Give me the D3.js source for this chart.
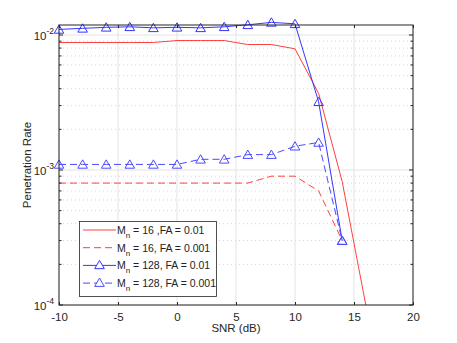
<!DOCTYPE html>
<html>
<head>
<meta charset="utf-8">
<script src="https://cdn.jsdelivr.net/npm/d3@7"></script>
<style>
body { margin: 0; background: #fff; }
text { font-family: "Liberation Sans", Arial, sans-serif; }
</style>
</head>
<body>
<svg id="chart" width="457" height="343"></svg>
<script>
// SNR axis points (dB)
const snr = [-10, -8, -6, -4, -2, 0, 2, 4, 6, 8, 10, 12, 14, 16];
const mn16Fa01 = [0.0088, 0.0088, 0.0088, 0.0088, 0.0088, 0.0091, 0.0091, 0.0091, 0.0085, 0.0085, 0.0079, 0.0037, 0.00082, 0.0001];
const mn16Fa001 = [0.0008, 0.0008, 0.0008, 0.0008, 0.0008, 0.0008, 0.0008, 0.0008, 0.0008, 0.0009, 0.0009, 0.0007, 0.0003];
const mn128Fa01 = [0.0110, 0.0112, 0.0114, 0.0115, 0.0113, 0.0114, 0.0113, 0.0115, 0.0119, 0.0124, 0.0121, 0.0032, 0.0003];
const mn128Fa001 = [0.0011, 0.0011, 0.0011, 0.0011, 0.0011, 0.0011, 0.0012, 0.0012, 0.0013, 0.0013, 0.0015, 0.0016, 0.0003];
const xTicks = [-10, -5, 0, 5, 10, 15, 20];
const yDecades = [-4, -3, -2];

const series = [
  {label: ["M", "n", " = 16 ,FA = 0.01"], values: mn16Fa01, color: "#ff4040", dash: null, marker: false},
  {label: ["M", "n", " = 16, FA = 0.001"], values: mn16Fa001, color: "#ff4040", dash: "7,4", marker: false},
  {label: ["M", "n", " = 128, FA = 0.01"], values: mn128Fa01, color: "#3535ff", dash: null, marker: true},
  {label: ["M", "n", " = 128, FA = 0.001"], values: mn128Fa001, color: "#4a4aff", dash: "7,4", marker: true}
];

const svg = d3.select("#chart");
const m = {left: 59, right: 413, top: 25, bottom: 305};

const x = d3.scaleLinear().domain([-10, 20]).range([m.left, m.right]);
const y = d3.scaleLog().domain([1e-4, 0.01186]).range([m.bottom, m.top]);

const axisColor = "#262626";

// clip
svg.append("defs").append("clipPath").attr("id", "clip")
  .append("rect").attr("x", m.left).attr("y", m.top - 8)
  .attr("width", m.right - m.left).attr("height", m.bottom - m.top + 8);

const grid = svg.append("g");
// minor y grid (dotted)
const minorVals = [];
yDecades.forEach(dc => {
  for (let k = 2; k <= 9; k++) {
    const v = k * Math.pow(10, dc);
    if (v <= y.domain()[1]) minorVals.push(v);
  }
});
grid.selectAll(".minor").data(minorVals).enter().append("line")
  .attr("x1", m.left).attr("x2", m.right)
  .attr("y1", d => y(d)).attr("y2", d => y(d))
  .attr("stroke", "#c8c8c8").attr("stroke-width", 0.8).attr("stroke-dasharray", "1,3");
// major grid
grid.selectAll(".majy").data(yDecades.map(dc => Math.pow(10, dc))).enter().append("line")
  .attr("x1", m.left).attr("x2", m.right)
  .attr("y1", d => y(d)).attr("y2", d => y(d))
  .attr("stroke", "#e3e3e3").attr("stroke-width", 1);
grid.selectAll(".majx").data(xTicks).enter().append("line")
  .attr("y1", m.top).attr("y2", m.bottom)
  .attr("x1", d => x(d)).attr("x2", d => x(d))
  .attr("stroke", "#e3e3e3").attr("stroke-width", 1);

// lines
const plot = svg.append("g").attr("clip-path", "url(#clip)");
const line = d3.line().x(d => x(d[0])).y(d => y(d[1]));
series.forEach(s => {
  const pts = s.values.map((v, i) => [snr[i], v]);
  plot.append("path").datum(pts)
    .attr("d", line)
    .attr("fill", "none")
    .attr("stroke", s.color)
    .attr("stroke-width", 1)
    .attr("stroke-dasharray", s.dash);
});

const tri = d3.symbol().type(d3.symbolTriangle).size(40);
series.filter(s => s.marker).forEach(s => {
  svg.append("g").selectAll("path").data(s.values.map((v, i) => [snr[i], v])).enter()
    .append("path")
    .attr("d", tri)
    .attr("transform", d => `translate(${x(d[0])},${y(d[1]) + 1})`)
    .attr("fill", "none")
    .attr("stroke", s.color)
    .attr("stroke-width", 1);
});

// axes box
const ax = svg.append("g");
ax.append("rect").attr("x", m.left).attr("y", m.top)
  .attr("width", m.right - m.left).attr("height", m.bottom - m.top)
  .attr("fill", "none").attr("stroke", axisColor).attr("stroke-width", 1);

const xAxisB = d3.axisBottom(x).tickValues(xTicks).tickSizeInner(-3).tickSizeOuter(0)
  .tickPadding(8).tickFormat(d => String(d));
const gx = ax.append("g").attr("transform", `translate(0,${m.bottom})`).call(xAxisB);
gx.select(".domain").remove();
gx.selectAll("line").attr("stroke", axisColor);
gx.selectAll("text").attr("font-size", 11.5).attr("fill", axisColor);

const gxt = ax.append("g").attr("transform", `translate(0,${m.top})`)
  .call(d3.axisTop(x).tickValues(xTicks).tickSizeInner(-3).tickSizeOuter(0).tickFormat(""));
gxt.select(".domain").remove();
gxt.selectAll("line").attr("stroke", axisColor);

// y ticks: decades longer, minor shorter, both sides
const yTickVals = yDecades.map(dc => Math.pow(10, dc));
[[m.left, 1], [m.right, -1]].forEach(([x0, dir]) => {
  ax.selectAll(null).data(yTickVals).enter().append("line")
    .attr("x1", x0).attr("x2", x0 + dir * 4)
    .attr("y1", d => y(d)).attr("y2", d => y(d))
    .attr("stroke", axisColor);
  ax.selectAll(null).data(minorVals).enter().append("line")
    .attr("x1", x0).attr("x2", x0 + dir * 2.5)
    .attr("y1", d => y(d)).attr("y2", d => y(d))
    .attr("stroke", axisColor);
});

// y tick labels 10^n
const yl = ax.selectAll(".ylab").data(yDecades).enter().append("text")
  .attr("x", m.left - 5).attr("y", d => y(Math.pow(10, d)) + 5)
  .attr("text-anchor", "end").attr("fill", axisColor).attr("font-size", 11.5);
yl.append("tspan").text("10");
yl.append("tspan").attr("font-size", 8.5).attr("dy", -6).text(d => String(d));

// axis titles
svg.append("text").attr("x", x(5)).attr("y", 332)
  .attr("text-anchor", "middle").attr("font-size", 11.5).attr("fill", axisColor)
  .text("SNR (dB)");
svg.append("text").attr("transform", `translate(31,${(m.top + m.bottom) / 2}) rotate(-90)`)
  .attr("text-anchor", "middle").attr("font-size", 11.5).attr("fill", axisColor)
  .text("Penetration Rate");

// legend
const lg = svg.append("g");
lg.append("rect").attr("x", 79.5).attr("y", 221.5).attr("width", 137).attr("height", 75)
  .attr("fill", "#fff").attr("stroke", axisColor).attr("stroke-width", 0.8);
series.forEach((s, i) => {
  const yy = 230 + i * 17.7;
  lg.append("line").attr("x1", 83).attr("x2", 116).attr("y1", yy).attr("y2", yy)
    .attr("stroke", s.color).attr("stroke-dasharray", s.dash);
  if (s.marker) {
    lg.append("path").attr("d", tri).attr("transform", `translate(99.5,${yy + 0.5})`)
      .attr("fill", "#fff").attr("stroke", s.color);
  }
  const t = lg.append("text").attr("x", 117).attr("y", yy + 4)
    .attr("font-size", 10.5).attr("fill", "#222");
  t.append("tspan").text(s.label[0]);
  t.append("tspan").attr("font-size", 8).attr("dy", 4).text(s.label[1]);
  t.append("tspan").attr("dy", -4).text(s.label[2]);
});
</script>
</body>
</html>
